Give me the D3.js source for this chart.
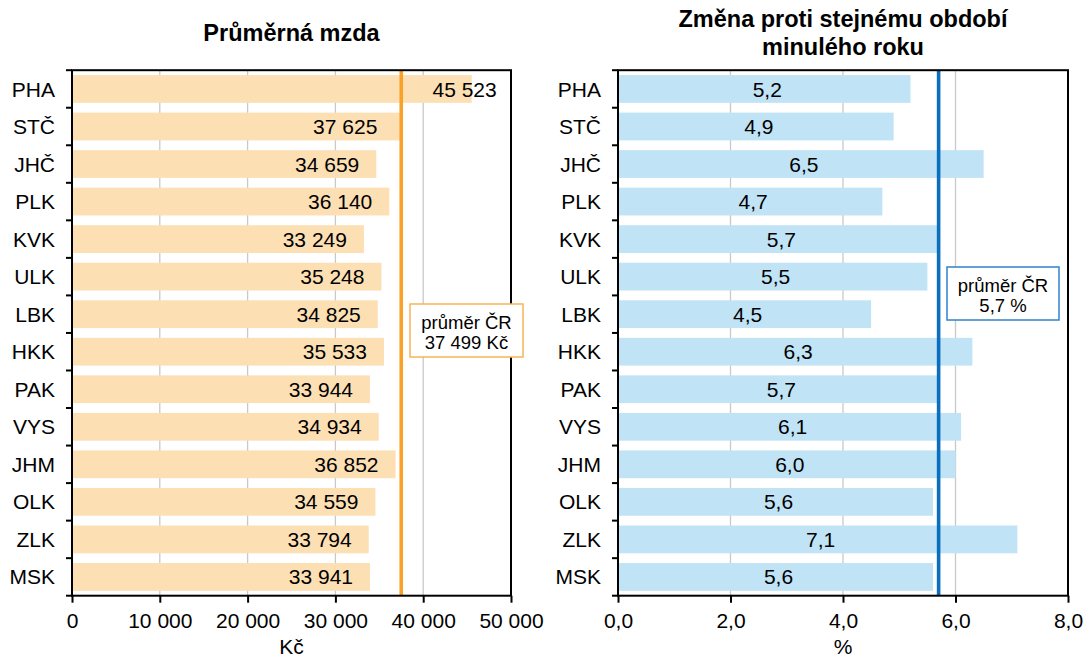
<!DOCTYPE html>
<html>
<head>
<meta charset="utf-8">
<script src="https://cdn.jsdelivr.net/npm/d3@7"></script>
<style>
  body { margin: 0; background: #fff; }
  text { font-family: "Liberation Sans", Arial, sans-serif; fill: #000; }
</style>
</head>
<body>
<svg id="chart" width="1086" height="654"></svg>
<script>
// data
var regions = ["PHA", "STČ", "JHČ", "PLK", "KVK", "ULK", "LBK", "HKK", "PAK", "VYS", "JHM", "OLK", "ZLK", "MSK"];
var wages = [45523, 37625, 34659, 36140, 33249, 35248, 34825, 35533, 33944, 34934, 36852, 34559, 33794, 33941];
var changes = [5.2, 4.9, 6.5, 4.7, 5.7, 5.5, 4.5, 6.3, 5.7, 6.1, 6.0, 5.6, 7.1, 5.6];
var avgWage = 37499;
var avgChange = 5.7;
var wageTicks = [0, 10000, 20000, 30000, 40000, 50000];
var changeTicks = [0, 2, 4, 6, 8];

// czech number format
var cz = d3.formatLocale({decimal: ",", thousands: " ", grouping: [3], currency: ["", " Kč"]});
var fmtInt = cz.format(",d");
var fmt1 = cz.format(",.1f");

var svg = d3.select("#chart");
var plotTop = 70.2, plotBottom = 595.7;
var fs = "21px";

var y = d3.scaleBand()
    .domain(regions)
    .range([plotTop, plotBottom])
    .paddingInner(0.26)
    .paddingOuter(0.13);

// step boundaries for y ticks
var step = (plotBottom - plotTop) / regions.length;
var bounds = d3.range(regions.length + 1).map(function(i) { return plotTop + i * step; });

function panel(opt) {
    var x = d3.scaleLinear().domain(opt.domain).range([opt.x0, opt.x1]);
    var g = svg.append("g");

    // gridlines
    g.selectAll("line.grid")
        .data(opt.ticks.slice(1, -1))
        .enter().append("line")
        .attr("x1", function(d) { return x(d); })
        .attr("x2", function(d) { return x(d); })
        .attr("y1", plotTop).attr("y2", plotBottom)
        .attr("stroke", "#c9c9c9").attr("stroke-width", 1.3);

    // bars
    g.selectAll("rect.bar")
        .data(opt.values)
        .enter().append("rect")
        .attr("x", x(0) + 1)
        .attr("y", function(d, i) { return y(regions[i]); })
        .attr("width", function(d) { return x(d) - x(0) - 1; })
        .attr("height", y.bandwidth())
        .attr("fill", opt.barColor);

    // average line
    g.append("line")
        .attr("x1", x(opt.avg)).attr("x2", x(opt.avg))
        .attr("y1", plotTop).attr("y2", plotBottom)
        .attr("stroke", opt.lineColor).attr("stroke-width", 3.6);

    // plot border
    g.append("rect")
        .attr("x", opt.x0).attr("y", plotTop)
        .attr("width", opt.x1 - opt.x0).attr("height", plotBottom - plotTop)
        .attr("fill", "none").attr("stroke", "#000").attr("stroke-width", 2);

    // x axis
    var xAxis = g.append("g")
        .attr("transform", "translate(0," + plotBottom + ")")
        .call(d3.axisBottom(x).tickValues(opt.ticks).tickFormat(opt.tickFmt).tickSize(7).tickPadding(10));
    xAxis.select(".domain").remove();
    xAxis.selectAll("line").attr("stroke", "#000").attr("stroke-width", 2);
    xAxis.selectAll("text").style("font-size", fs)
        .style("font-family", "Liberation Sans, Arial, sans-serif");

    // y ticks at category boundaries
    g.selectAll("line.ytick")
        .data(bounds)
        .enter().append("line")
        .attr("x1", opt.x0 - 6).attr("x2", opt.x0)
        .attr("y1", function(d) { return d; }).attr("y2", function(d) { return d; })
        .attr("stroke", "#000").attr("stroke-width", 2);

    // category labels
    g.selectAll("text.cat")
        .data(regions)
        .enter().append("text")
        .attr("x", opt.x0 - 17)
        .attr("y", function(d) { return y(d) + y.bandwidth() / 2; })
        .attr("dy", "0.36em")
        .attr("text-anchor", "end")
        .style("font-size", fs)
        .text(function(d) { return d; });

    // value labels
    g.selectAll("text.val")
        .data(opt.values)
        .enter().append("text")
        .attr("x", function(d, i) { return opt.labelX(x, d, regions[i]); })
        .attr("y", function(d, i) { return y(regions[i]) + y.bandwidth() / 2; })
        .attr("dy", "0.36em")
        .attr("text-anchor", opt.labelAnchor)
        .style("font-size", fs)
        .text(function(d) { return opt.labelFmt(d); });

    // title
    var t = g.append("text")
        .attr("x", (opt.x0 + opt.x1) / 2)
        .attr("text-anchor", "middle")
        .style("font-size", "23.5px").style("font-weight", "bold");
    opt.title.forEach(function(line, i) {
        t.append("tspan").attr("x", (opt.x0 + opt.x1) / 2)
            .attr("y", opt.titleY + i * 27.5).text(line);
    });

    // axis title
    g.append("text")
        .attr("x", (opt.x0 + opt.x1) / 2).attr("y", 654)
        .attr("text-anchor", "middle")
        .style("font-size", fs)
        .text(opt.unit);

    // average box
    var b = opt.box;
    g.append("rect")
        .attr("x", b.x).attr("y", b.y).attr("width", b.w).attr("height", b.h)
        .attr("fill", "#fff").attr("stroke", opt.boxColor).attr("stroke-width", 1.5);
    b.lines.forEach(function(line, i) {
        g.append("text")
            .attr("x", b.x + b.w / 2)
            .attr("y", b.y + 18 + i * 20)
            .attr("dy", "0.36em")
            .attr("text-anchor", "middle")
            .style("font-size", "18.5px")
            .text(line);
    });
}

// label nudges where the original moved labels off the average line
var nudge = {"PHA": 42, "STČ": -8};

panel({
    domain: [0, 50000], x0: 72, x1: 511,
    values: wages, avg: avgWage, ticks: wageTicks,
    tickFmt: function(d) { return fmtInt(d); },
    barColor: "#fddfb4", lineColor: "#f8a229", boxColor: "#f9b455",
    labelAnchor: "end",
    labelX: function(x, d, r) { return x(d) - 17 + (nudge[r] || 0); },
    labelFmt: fmtInt,
    title: ["Průměrná mzda"], titleY: 41,
    unit: "Kč",
    box: {x: 410, y: 304, w: 113, h: 53, lines: ["průměr ČR", fmtInt(avgWage) + " Kč"]}
});

panel({
    domain: [0, 8], x0: 618, x1: 1068,
    values: changes, avg: avgChange, ticks: changeTicks,
    tickFmt: function(d) { return fmt1(d); },
    barColor: "#c0e3f6", lineColor: "#0b6fc0", boxColor: "#2f83cc",
    labelAnchor: "middle",
    labelX: function(x, d) { return (x(0) + x(d)) / 2 + 3; },
    labelFmt: fmt1,
    title: ["Změna proti stejnému období", "minulého roku"], titleY: 27,
    unit: "%",
    box: {x: 947, y: 267, w: 112, h: 53, lines: ["průměr ČR", fmt1(avgChange) + " %"]}
});
</script>
</body>
</html>
